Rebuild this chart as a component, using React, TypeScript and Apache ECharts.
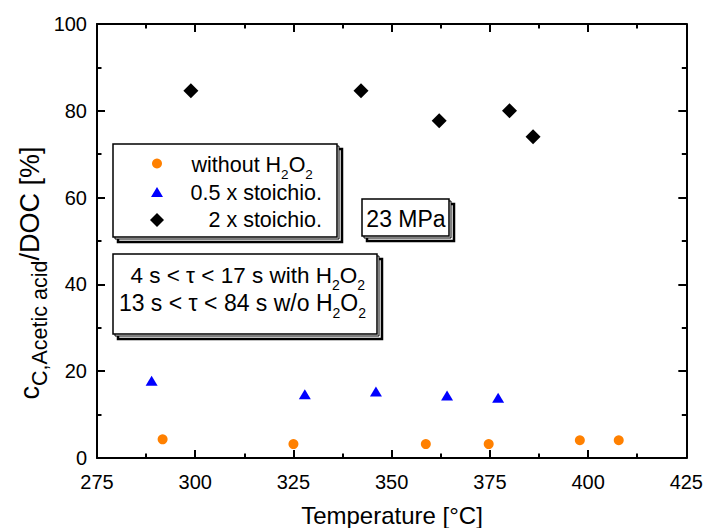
import React, { useEffect, useRef } from "react";
import * as echarts from "echarts";

// ---- data ----
const xRange = { min: 275, max: 425, interval: 25 };
const yRange = { min: 0, max: 100, interval: 20 };
const withoutH2O2: number[][] = [
  [291.7, 4.3],
  [325.0, 3.2],
  [358.7, 3.2],
  [374.7, 3.2],
  [397.9, 4.1],
  [407.8, 4.1],
];
const halfStoich: number[][] = [
  [288.9, 17.8],
  [327.9, 14.7],
  [346.0, 15.3],
  [364.1, 14.4],
  [377.1, 13.9],
];
const doubleStoich: number[][] = [
  [298.9, 84.6],
  [342.2, 84.6],
  [362.1, 77.7],
  [380.0, 80.0],
  [386.0, 74.0],
];
const seriesNames = ["without H2O2", "0.5 x stoichio.", "2 x stoichio."];
const colors = { orange: "#FF8000", blue: "#0000FF", black: "#000000" };

const FONT = '"Liberation Sans", Arial, Helvetica, sans-serif';

type Seg = { t: string; sub?: boolean };

let ctx: CanvasRenderingContext2D | null = null;
function measure(text: string, size: number): number {
  if (!ctx) ctx = document.createElement("canvas").getContext("2d");
  if (!ctx) return text.length * size * 0.5;
  ctx.font = `${size}px ${FONT}`;
  return ctx.measureText(text).width;
}

function richLine(
  segs: Seg[],
  x: number,
  y: number,
  F: number,
  f: number,
  subDy: number,
  align: "left" | "right" | "center"
): any[] {
  const widths = segs.map((s) => measure(s.t, s.sub ? f : F));
  const total = widths.reduce((a, b) => a + b, 0);
  let cur = align === "left" ? x : align === "right" ? x - total : x - total / 2;
  const out: any[] = [];
  segs.forEach((s, i) => {
    const size = s.sub ? f : F;
    out.push({
      type: "text",
      x: cur,
      y: s.sub ? y + subDy : y,
      silent: true,
      style: {
        text: s.t,
        font: `${size}px ${FONT}`,
        fill: "#000",
        align: "left",
        textAlign: "left",
        verticalAlign: "middle",
        textVerticalAlign: "middle",
      },
    });
    cur += widths[i];
  });
  return out;
}

function shadowBox(x: number, y: number, w: number, h: number): any[] {
  return [
    {
      type: "rect",
      silent: true,
      shape: { x: x + 5, y: y + 5, width: w, height: h },
      style: { fill: "#fff", stroke: "#000", lineWidth: 2.5 },
    },
    {
      type: "rect",
      silent: true,
      shape: { x: x + 2, y: y + 2, width: w, height: h },
      style: { fill: "#fff", stroke: "#000", lineWidth: 1 },
    },
    {
      type: "rect",
      silent: true,
      shape: { x, y, width: w, height: h },
      style: { fill: "#fff", stroke: "#000", lineWidth: 1.5 },
    },
  ];
}

function axisCommon(showLabel: boolean, margin: number) {
  return {
    axisLine: { show: true, onZero: false, lineStyle: { color: "#000", width: 2 } },
    axisTick: { show: true, inside: true, length: 8, lineStyle: { color: "#000", width: 2 } },
    minorTick: { show: true, splitNumber: 2, length: 4.5, lineStyle: { color: "#000", width: 2 } },
    splitLine: { show: false },
    minorSplitLine: { show: false },
    axisLabel: { show: showLabel, fontSize: 20, color: "#000", margin, fontFamily: FONT },
  };
}

export default function App() {
  const ref = useRef<HTMLDivElement>(null);
  useEffect(() => {
    if (!ref.current) return;
    const chart = echarts.init(ref.current, undefined, { renderer: "svg" });

    const graphic: any[] = [];
    // legend box
    graphic.push(...shadowBox(113, 144, 224, 93));
    graphic.push({
      type: "circle",
      silent: true,
      shape: { cx: 157, cy: 163.5, r: 5 },
      style: { fill: colors.orange },
    });
    graphic.push({
      type: "polygon",
      silent: true,
      shape: { points: [[157, 187], [163, 197], [151, 197]] },
      style: { fill: colors.blue },
    });
    graphic.push({
      type: "polygon",
      silent: true,
      shape: { points: [[157, 213], [164, 220], [157, 227], [150, 220]] },
      style: { fill: colors.black },
    });
    graphic.push(
      ...richLine(
        [{ t: "without H" }, { t: "2", sub: true }, { t: "O" }, { t: "2", sub: true }],
        191.5, 165, 21.5, 13.5, 9, "left"
      )
    );
    graphic.push(...richLine([{ t: seriesNames[1] }], 322, 193, 21.5, 13, 9, "right"));
    graphic.push(...richLine([{ t: seriesNames[2] }], 322, 219.5, 21.5, 13, 9, "right"));

    // 23 MPa box
    graphic.push(...shadowBox(362, 199, 87, 37));
    graphic.push(...richLine([{ t: "23 MPa" }], 406, 218.5, 23, 13, 9, "center"));

    // residence time box
    graphic.push(...shadowBox(113, 254, 264, 80));
    graphic.push(
      ...richLine(
        [{ t: "4 s < τ < 17 s with H" }, { t: "2", sub: true }, { t: "O" }, { t: "2", sub: true }],
        365, 275, 22.5, 14, 9.5, "right"
      )
    );
    graphic.push(
      ...richLine(
        [{ t: "13 s < τ < 84 s w/o H" }, { t: "2", sub: true }, { t: "O" }, { t: "2", sub: true }],
        366, 303, 23, 14, 9.5, "right"
      )
    );

    // x axis title
    graphic.push(...richLine([{ t: "Temperature [°C]" }], 392, 515, 24, 14, 9, "center"));

    // y axis title (rotated)
    graphic.push({
      type: "group",
      x: 30,
      y: 273,
      rotation: Math.PI / 2,
      children: richLine(
        [{ t: "c" }, { t: "C,Acetic acid", sub: true }, { t: "/DOC [%]" }],
        0, 0, 27, 21.5, 9.5, "center"
      ),
    });

    const option: any = {
      animation: false,
      backgroundColor: "#fff",
      textStyle: { fontFamily: FONT },
      grid: { left: 97, right: 19, top: 24, bottom: 70 },
      xAxis: [
        { type: "value", position: "bottom", ...xRange, ...axisCommon(true, 14) },
        { type: "value", position: "top", ...xRange, ...axisCommon(false, 14) },
      ],
      yAxis: [
        { type: "value", position: "left", ...yRange, ...axisCommon(true, 10) },
        { type: "value", position: "right", ...yRange, ...axisCommon(false, 10) },
      ],
      series: [
        {
          name: seriesNames[0],
          type: "scatter",
          data: withoutH2O2,
          symbol: "circle",
          symbolSize: 10,
          itemStyle: { color: colors.orange, opacity: 1 },
        },
        {
          name: seriesNames[1],
          type: "scatter",
          data: halfStoich,
          symbol: "triangle",
          symbolSize: [12, 10],
          itemStyle: { color: colors.blue, opacity: 1 },
        },
        {
          name: seriesNames[2],
          type: "scatter",
          data: doubleStoich,
          symbol: "diamond",
          symbolSize: 15,
          itemStyle: { color: colors.black, opacity: 1 },
        },
      ],
      graphic,
    };
    chart.setOption(option);
    return () => chart.dispose();
  }, []);

  return <div ref={ref} style={{ width: 706, height: 528, position: "absolute", left: 0, top: 0 }} />;
}
